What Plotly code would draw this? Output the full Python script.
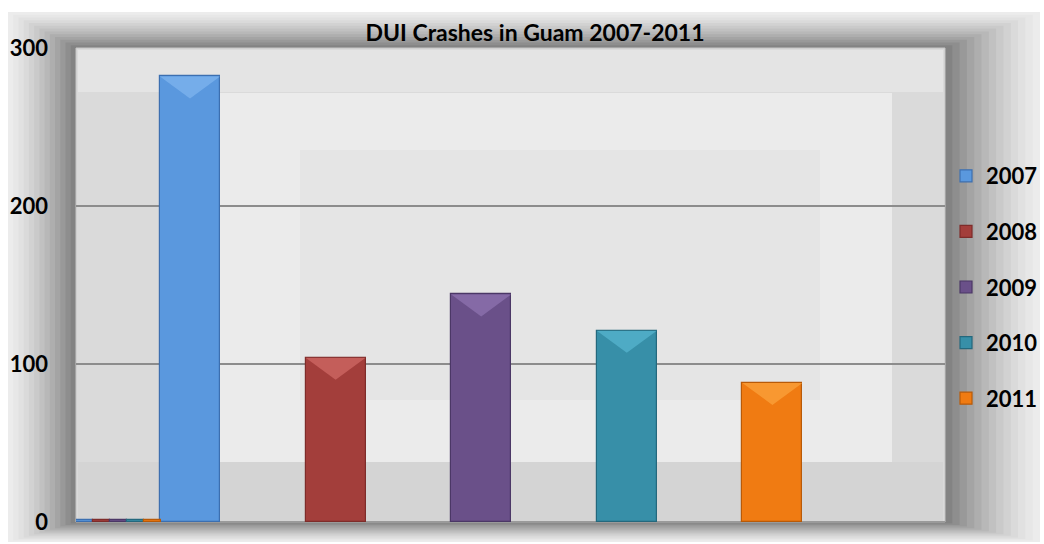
import plotly.graph_objs as go

# data
years = ['2007', '2008', '2009', '2010', '2011']
crashes = [282, 104, 144, 121, 88]
strip_values = [1, 1, 1, 1, 1]   # the tiny bars in the first slot
colors = ['#5a98de', '#a33e3b', '#6a5089', '#378fa8', '#f07b12']
edge_colors = ['#3c6fb0', '#7e2c2a', '#4b3766', '#24687d', '#b85a08']
bevel_colors = ['#8cc0f4', '#e07874', '#9a80bd', '#62c2dc', '#ffb04a']

# pixel geometry of the plot area inside the 1044x544 page
L, R, T, B = 76, 945, 48, 522
W, H = 1044, 544

def px(x):
    return (x - L) / (R - L)

def py(y):
    return (B - y) / (B - T)

unit = 145.6  # pixels between bar centres
per_px_y = 300 / (B - T)
main_x = [(190 - L) / unit + i for i in range(5)]
strip_x = [(84 - L) / unit + i * 17 / unit for i in range(5)]
bar_w = 60 / unit

fig = go.Figure()
for i, yr in enumerate(years):
    fig.add_trace(go.Bar(
        x=[strip_x[i], main_x[i]],
        y=[strip_values[i], crashes[i]],
        width=[17 / unit, bar_w],
        name='<b>' + yr + '</b>',
        legendgroup=yr,
        marker=dict(color=colors[i], line=dict(color=edge_colors[i], width=1.2)),
    ))

# fake gradient frame around the plot area
shapes = []
n = 14
outer = (8, 12, 1040, 542)
for k in range(n):
    t = k / (n - 1)
    x0 = outer[0] + (L - outer[0]) * t
    y0 = outer[1] + (T - outer[1]) * t
    x1 = outer[2] + (R - outer[2]) * t
    y1 = outer[3] + (B - outer[3]) * t
    g = int(236 - (236 - 120) * t ** 1.3)
    shapes.append(dict(type='rect', xref='paper', yref='paper', layer='below',
                       x0=px(x0), x1=px(x1), y0=py(y1), y1=py(y0),
                       fillcolor=f'rgb({g},{g},{g})', line=dict(width=0)))

# plot area panels
shapes.append(dict(type='rect', xref='paper', yref='paper', layer='below',
                   x0=0, x1=1, y0=0, y1=1, fillcolor='#dadada', line=dict(color='#c4c4c4', width=1)))
shapes.append(dict(type='rect', xref='paper', yref='paper', layer='below',
                   x0=px(78), x1=px(943), y0=py(92), y1=py(50), fillcolor='#e4e4e4', line=dict(width=0)))
shapes.append(dict(type='rect', xref='paper', yref='paper', layer='below',
                   x0=px(220), x1=px(892), y0=py(462), y1=py(93), fillcolor='#ebebeb', line=dict(width=0)))
shapes.append(dict(type='rect', xref='paper', yref='paper', layer='below',
                   x0=px(300), x1=px(820), y0=py(400), y1=py(150), fillcolor='#e5e5e5', line=dict(width=0)))
shapes.append(dict(type='rect', xref='paper', yref='paper', layer='below',
                   x0=px(78), x1=px(943), y0=0, y1=py(462), fillcolor='#d4d4d4', line=dict(width=0)))

# bevel highlight on top of each main bar, derived from the data
bev_h = 22 * per_px_y
for i in range(5):
    xl = main_x[i] - bar_w / 2
    xr = main_x[i] + bar_w / 2
    top = crashes[i]
    shapes.append(dict(type='path', xref='x', yref='y', layer='above',
                       path=f'M {xl},{top} L {xr},{top} L {main_x[i]},{top - bev_h} Z',
                       fillcolor=bevel_colors[i], opacity=0.55, line=dict(width=0)))

fig.update_layout(
    width=W, height=H,
    margin=dict(l=L, r=W - R, t=T, b=H - B, autoexpand=False),
    paper_bgcolor='white',
    plot_bgcolor='rgba(0,0,0,0)',
    font=dict(family='Lato, Open Sans, sans-serif', color='black'),
    title=dict(text='<b>DUI Crashes in Guam 2007-2011</b>', x=535 / W, xanchor='center',
               y=1 - 33 / H, yanchor='middle', font=dict(size=23)),
    showlegend=True,
    legend=dict(x=px(946), xanchor='left', y=py(155), yanchor='top',
                bgcolor='rgba(0,0,0,0)', font=dict(size=22),
                tracegroupgap=24, itemwidth=30),
    bargap=0,
    shapes=shapes,
    xaxis=dict(range=[0, (R - L) / unit], showticklabels=False, showgrid=False,
               zeroline=False, showline=False, fixedrange=True),
    yaxis=dict(range=[0, 300], tickvals=[0, 100, 200, 300],
               ticktext=['<b>0</b>', '<b>100</b>', '<b>200</b>', '<b>300</b>'],
               tickfont=dict(size=22), ticklabelstandoff=27,
               showgrid=True, gridcolor='#8c8c8c', gridwidth=1.5,
               zeroline=True, zerolinecolor='#9a9a9a', zerolinewidth=2,
               showline=False),
)

fig.write_html('out.html', config={'displayModeBar': False},
               post_script="document.body.style.margin='0';")
